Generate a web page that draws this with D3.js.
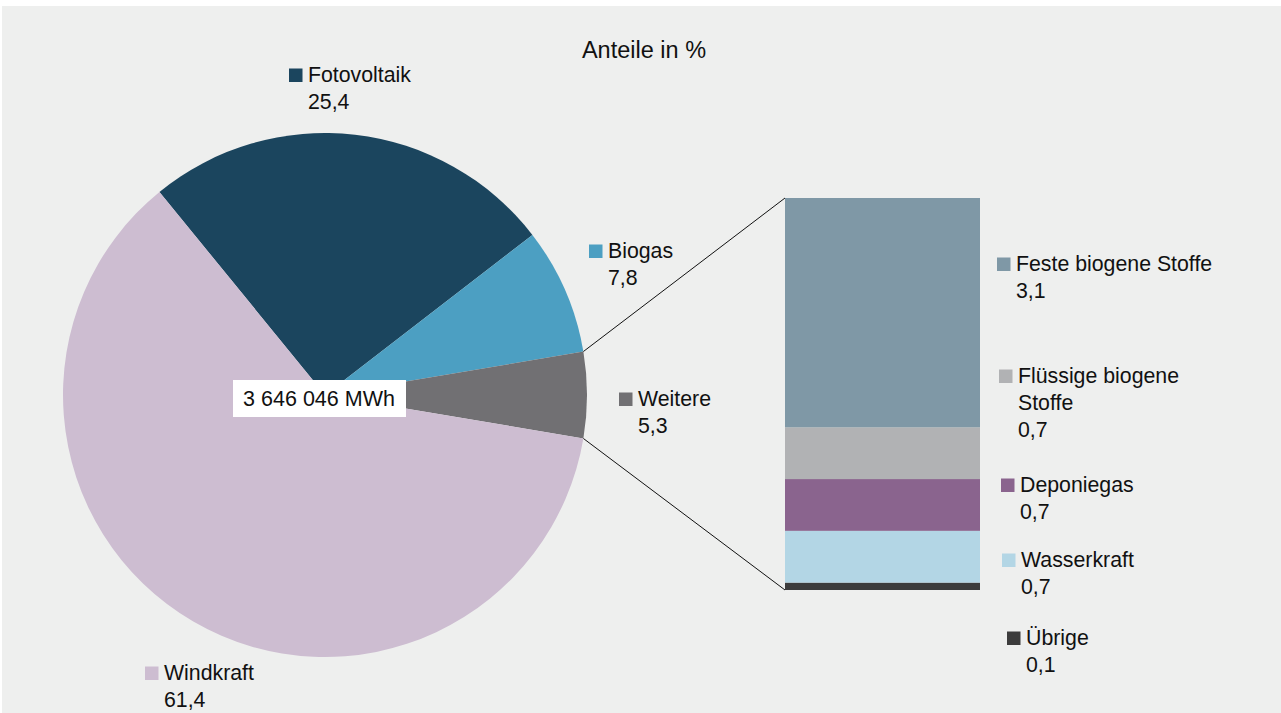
<!DOCTYPE html>
<html>
<head>
<meta charset="utf-8">
<script src="https://cdn.jsdelivr.net/npm/d3@7"></script>
<style>
  html, body { margin: 0; padding: 0; background: #fff; }
  svg { display: block; font-family: "Liberation Sans", Arial, sans-serif; }
</style>
</head>
<body>
<svg id="chart" width="1281" height="713"></svg>
<script>
// Hauptkreis
const pieNames = ['Fotovoltaik', 'Biogas', 'Weitere', 'Windkraft']
const pieValues = [25.4, 7.8, 5.3, 61.4]
const pieColors = ['#1b455e', '#4c9fc2', '#717073', '#cdbdd1']

// Aufteilung "Weitere" (von oben nach unten)
const subNames = ['Feste biogene Stoffe', 'Flüssige biogene Stoffe', 'Deponiegas', 'Wasserkraft', 'Übrige']
const subValues = [3.1, 0.7, 0.7, 0.7, 0.1]
const subColors = ['#7f98a6', '#b1b2b4', '#8a648e', '#b3d6e5', '#3c3c3c']

const title = 'Anteile in %'
const totalLabel = '3 646 046 MWh'

// layout for labels: [x of square, baseline]
const pieLabelPos = [[289, 82], [589, 258], [619, 406], [145, 680]]
const subLabelPos = [[997, 271], [999, 383], [1001, 492], [1002, 567], [1007, 645]]

const fmt = v => d3.format('.1f')(v).replace('.', ',')

const svg = d3.select('#chart')
svg.append('rect')
    .attr('x', 2).attr('y', 6)
    .attr('width', 1279).attr('height', 707)
    .attr('fill', '#eeefee')

svg.append('text')
    .attr('x', 644).attr('y', 58)
    .attr('text-anchor', 'middle')
    .attr('font-size', 23.5)
    .attr('fill', '#111')
    .text(title)

const cx = 325, cy = 395, r = 262
const total = d3.sum(pieValues)
const iW = pieNames.indexOf('Weitere')
const before = d3.sum(pieValues.slice(0, iW)) + pieValues[iW] / 2
const start = Math.PI / 2 - before / total * 2 * Math.PI

const pie = d3.pie().sort(null).startAngle(start).endAngle(start + 2 * Math.PI)
const arcs = pie(pieValues)
const arc = d3.arc().innerRadius(0).outerRadius(r)

const g = svg.append('g').attr('transform', `translate(${cx},${cy})`)
g.selectAll('path')
    .data(arcs)
    .enter()
    .append('path')
    .attr('d', arc)
    .attr('fill', (d, i) => pieColors[i])

// Balken
const barX = 785, barW = 195, barTop = 198, barBottom = 590
const y = d3.scaleLinear().domain([0, d3.sum(subValues)]).range([barBottom, barTop])
const rev = subValues.map((v, i) => i).reverse()
let acc = 0
const segs = rev.map(i => {
    const s = { i: i, y0: acc, y1: acc + subValues[i] }
    acc += subValues[i]
    return s
})
svg.selectAll('rect.seg')
    .data(segs)
    .enter()
    .append('rect')
    .attr('class', 'seg')
    .attr('x', barX)
    .attr('width', barW)
    .attr('y', d => y(d.y1))
    .attr('height', d => y(d.y0) - y(d.y1))
    .attr('fill', d => subColors[d.i])

// Verbindungslinien
const wArc = arcs[iW]
const pt = a => [cx + r * Math.sin(a), cy - r * Math.cos(a)]
const p1 = pt(wArc.startAngle), p2 = pt(wArc.endAngle)
svg.append('line')
    .attr('x1', p1[0]).attr('y1', p1[1])
    .attr('x2', barX).attr('y2', y(d3.sum(subValues)))
    .attr('stroke', '#111').attr('stroke-width', 1)
svg.append('line')
    .attr('x1', p2[0]).attr('y1', p2[1])
    .attr('x2', barX).attr('y2', y(0))
    .attr('stroke', '#111').attr('stroke-width', 1)

// Summenbox
const box = svg.append('g')
box.append('rect')
    .attr('x', 233).attr('y', 380)
    .attr('width', 173).attr('height', 37)
    .attr('fill', '#fff')
box.append('text')
    .attr('x', 319).attr('y', 406)
    .attr('text-anchor', 'middle')
    .attr('font-size', 21.5)
    .attr('fill', '#111')
    .text(totalLabel)

function legendItem(pos, lines, value, color) {
    const item = svg.append('g')
    item.append('rect')
        .attr('x', pos[0]).attr('y', pos[1] - 13.5)
        .attr('width', 13.5).attr('height', 13.5)
        .attr('fill', color)
    const t = item.append('text')
        .attr('x', pos[0] + 19).attr('y', pos[1])
        .attr('font-size', 21.3)
        .attr('fill', '#111')
    lines.concat([fmt(value)]).forEach((l, k) => {
        t.append('tspan')
            .attr('x', pos[0] + 19)
            .attr('dy', k === 0 ? 0 : 27)
            .text(l)
    })
}

pieNames.forEach((n, i) => legendItem(pieLabelPos[i], [n], pieValues[i], pieColors[i]))
subNames.forEach((n, i) => {
    const lines = n === 'Flüssige biogene Stoffe' ? ['Flüssige biogene', 'Stoffe'] : [n]
    legendItem(subLabelPos[i], lines, subValues[i], subColors[i])
})
</script>
</body>
</html>
